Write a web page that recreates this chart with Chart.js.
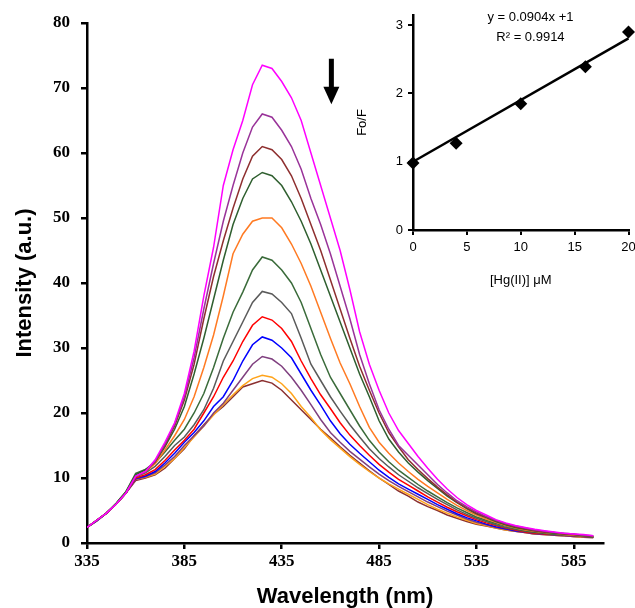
<!DOCTYPE html>
<html><head><meta charset="utf-8">
<script src="https://cdn.jsdelivr.net/npm/chart.js@4.4.1/dist/chart.umd.min.js"></script>
<style>
html,body{margin:0;padding:0;background:#fff;overflow:hidden;width:635px;height:608px}
#main{position:absolute;left:0;top:0}
#inset{position:absolute;left:345px;top:0}
</style></head><body>
<canvas id="main" width="635" height="608"></canvas>
<canvas id="inset" width="290" height="300"></canvas>
<script>
// ---- main spectra data ----
const wavelengths = [335,340,345,350,355,360,365,370,375,380,385,390,395,400,405,410,415,420,425,430,435,440,445,450,455,460,465,470,475,480,485,490,495,500,505,510,515,520,525,530,535,540,545,550,555,560,565,570,575,580,585,590,595];
const xTicks = [335,385,435,485,535,585];
const yTicks = [0,10,20,30,40,50,60,70,80];

const spec01 = [2.4,3.5,4.6,6.0,7.7,10.3,11.0,12.8,15.5,18.5,23.0,29.5,38.0,45.5,55.0,60.5,65.0,70.5,73.5,73.0,71.0,68.5,65.0,60.0,55.0,50.0,45.0,39.0,32.5,27.5,23.5,20.0,17.3,15.3,13.3,11.5,9.8,8.3,7.0,5.9,5.0,4.3,3.6,3.1,2.7,2.4,2.1,1.9,1.7,1.5,1.4,1.3,1.1];
const spec02 = [2.4,3.5,4.6,6.0,7.7,10.2,11.0,12.6,15.2,18.3,22.5,28.5,36.0,43.0,49.5,55.0,60.0,64.0,66.0,65.5,63.5,61.0,57.5,53.0,49.0,44.5,39.5,34.5,29.0,24.5,20.5,17.5,15.0,13.5,12.0,10.5,9.0,7.7,6.5,5.6,4.8,4.1,3.5,3.0,2.6,2.3,2.0,1.8,1.6,1.5,1.4,1.2,1.1];
const spec03 = [2.4,3.5,4.6,6.0,7.7,10.2,11.0,12.5,15.0,18.0,22.0,27.5,34.5,41.0,46.5,51.5,56.0,59.5,61.0,60.5,59.0,56.5,53.0,49.0,45.0,40.5,36.0,31.5,27.2,23.5,20.0,17.0,14.8,12.8,11.3,9.9,8.6,7.4,6.3,5.4,4.6,4.0,3.4,2.9,2.5,2.2,1.9,1.7,1.6,1.4,1.3,1.2,1.0];
const spec04 = [2.4,3.5,4.6,6.1,7.9,10.5,11.3,12.5,14.8,17.5,21.0,26.0,31.5,37.5,43.5,49.0,53.0,56.0,57.0,56.5,55.0,52.5,49.5,46.0,42.0,38.0,34.0,30.0,26.0,22.5,18.8,16.0,14.0,12.3,10.9,9.6,8.4,7.2,6.2,5.3,4.5,3.9,3.3,2.8,2.4,2.1,1.9,1.7,1.5,1.4,1.3,1.1,1.0];
const spec05 = [2.4,3.5,4.6,6.0,7.7,10.2,11.0,12.2,14.3,16.5,19.0,22.5,27.0,32.0,38.0,44.5,47.5,49.5,50.0,50.0,48.5,46.0,43.0,39.5,35.5,31.5,27.7,24.5,21.0,17.8,15.5,13.8,12.3,11.0,9.8,8.7,7.7,6.7,5.8,5.0,4.3,3.7,3.2,2.7,2.3,2.0,1.8,1.6,1.5,1.3,1.2,1.1,1.0];
const spec06 = [2.4,3.5,4.6,6.1,7.9,10.7,11.3,12.3,14.0,15.8,17.5,20.0,23.0,27.0,31.5,35.5,38.6,42.0,44.0,43.5,42.0,40.0,37.0,33.0,29.0,25.5,23.0,20.5,18.0,15.8,14.0,12.5,11.2,10.1,9.0,8.0,7.1,6.2,5.4,4.7,4.0,3.5,3.0,2.6,2.2,1.9,1.7,1.5,1.4,1.3,1.2,1.1,0.9];
const spec07 = [2.4,3.5,4.6,6.0,7.7,10.2,10.8,11.8,13.3,15.0,16.3,18.2,20.5,23.8,28.0,31.0,34.0,37.0,38.7,38.3,37.0,35.3,31.5,27.5,25.0,22.5,20.3,18.2,16.3,14.5,13.0,11.7,10.5,9.5,8.5,7.6,6.7,5.9,5.1,4.4,3.8,3.3,2.8,2.4,2.1,1.8,1.6,1.5,1.3,1.2,1.1,1.0,0.9];
const spec08 = [2.4,3.5,4.6,6.0,7.7,10.0,10.5,11.3,12.7,14.3,15.8,17.5,20.0,22.5,25.5,28.0,31.0,33.5,34.8,34.3,33.0,31.0,28.0,25.3,22.8,20.7,18.5,16.6,15.0,13.5,12.1,10.9,9.8,8.9,8.0,7.1,6.3,5.5,4.8,4.2,3.6,3.1,2.7,2.3,2.0,1.7,1.5,1.4,1.3,1.2,1.1,1.0,0.9];
const spec09 = [2.4,3.4,4.6,6.0,7.7,9.9,10.3,11.0,12.3,13.8,15.5,17.0,18.8,21.0,22.5,25.0,28.0,30.5,31.7,31.2,30.0,28.5,26.0,23.5,21.2,18.8,16.8,15.2,13.8,12.5,11.2,10.1,9.1,8.3,7.5,6.7,5.9,5.2,4.5,3.9,3.4,2.9,2.5,2.2,1.9,1.7,1.5,1.4,1.3,1.2,1.1,1.0,0.9];
const spec10 = [2.4,3.4,4.6,6.0,7.7,9.8,10.2,10.8,12.0,13.3,15.0,16.5,18.0,20.0,21.5,23.5,25.5,27.5,28.7,28.3,27.2,25.5,23.5,21.3,19.0,17.0,15.5,14.1,12.9,11.7,10.6,9.6,8.7,7.9,7.1,6.3,5.6,4.9,4.3,3.7,3.2,2.8,2.4,2.1,1.8,1.6,1.4,1.3,1.2,1.1,1.0,1.0,0.9];
const spec11 = [2.4,3.4,4.6,6.0,7.8,9.8,10.1,10.6,11.8,13.0,14.7,16.3,18.0,19.7,21.3,22.8,24.2,25.3,25.8,25.5,24.5,23.0,21.0,19.3,17.4,15.9,14.6,13.3,12.1,11.0,10.0,9.1,8.3,7.5,6.7,5.9,5.2,4.6,4.0,3.5,3.0,2.7,2.3,2.0,1.8,1.6,1.4,1.3,1.2,1.1,1.0,0.9,0.9];
const spec12 = [2.4,3.4,4.6,6.0,7.7,9.6,10.0,10.5,11.5,13.0,14.5,16.5,18.2,19.8,21.0,22.5,24.0,24.5,25.0,24.6,23.5,22.0,20.5,19.0,17.5,16.2,14.8,13.5,12.3,11.1,10.0,9.0,8.0,7.2,6.3,5.6,5.0,4.3,3.8,3.3,2.9,2.6,2.3,2.0,1.8,1.6,1.4,1.3,1.2,1.1,1.0,0.9,0.8];

const spectra = [spec01,spec02,spec03,spec04,spec05,spec06,spec07,spec08,spec09,spec10,spec11,spec12];
const specColors = ['#FF00FF','#993399','#8E2F2F','#2F5F2F','#FF7A22','#3A6B3A','#5A5A5A','#FF0000','#0000FF','#7F3F7F','#FFA31A','#8B3030'];

// arrow annotation (data units)
const arrowX = 460.5, arrowTop = 74.5, arrowNeck = 70.2, arrowTip = 67.5;

// ---- inset data ----
const hgConc = [0,4,10,16,20];
const foF = [0.98,1.27,1.85,2.39,2.9];
const fitX = [0,20];
const fitY = [1.0,2.808];
const insetXTicks = [0,5,10,15,20];
const insetYTicks = [0,1,2,3];
const eqLine1 = 'y = 0.0904x +1';
const eqLine2 = 'R\u00B2 = 0.9914';

const tickFontMain = {family:'Liberation Serif', weight:'bold', size:17};
const titleFontMain = {family:'Liberation Sans', weight:'bold', size:22, lineHeight:1};

const arrowPlugin = {
  id:'arrow',
  afterDatasetsDraw(chart){
    const {ctx, scales:{x,y}} = chart;
    const cx = x.getPixelForValue(arrowX);
    const yt = y.getPixelForValue(arrowTop), yn = y.getPixelForValue(arrowNeck), yp = y.getPixelForValue(arrowTip);
    ctx.save();
    ctx.fillStyle = '#000';
    ctx.fillRect(cx-2.5, yt, 5, yn-yt+1);
    ctx.beginPath();
    ctx.moveTo(cx-8, yn); ctx.lineTo(cx+8, yn); ctx.lineTo(cx, yp); ctx.closePath();
    ctx.fill();
    ctx.restore();
  }
};

new Chart(document.getElementById('main'), {
  type:'line',
  data:{
    datasets: spectra.map((s,i)=>({
      data: wavelengths.map((w,j)=>({x:w, y:s[j]})),
      borderColor: specColors[i], borderWidth:1.5, pointRadius:0, tension:0, fill:false
    }))
  },
  options:{
    responsive:false, animation:false, devicePixelRatio:1,
    layout:{padding:{left:4, top:23, right:32, bottom:0}},
    plugins:{legend:{display:false}, tooltip:{enabled:false}},
    scales:{
      x:{
        type:'linear', min:335, max:600,
        afterBuildTicks: s=>{ s.ticks = xTicks.map(v=>({value:v})); },
        afterFit: s=>{ s.paddingLeft=0; s.paddingRight=0; s.height=65; },
        border:{color:'#000', width:2.5},
        grid:{drawOnChartArea:false, color:'#000', lineWidth:2.5, tickLength:6},
        ticks:{color:'#000', font:tickFontMain, padding:2, maxRotation:0, autoSkip:false},
        title:{display:true, text:'Wavelength (nm)', color:'#000', font:titleFontMain, padding:{top:0,bottom:0}}
      },
      y:{
        type:'linear', min:0, max:80,
        afterBuildTicks: s=>{ s.ticks = yTicks.map(v=>({value:v})); },
        afterFit: s=>{ s.paddingTop=0; s.paddingBottom=0; s.width=83; },
        border:{color:'#000', width:2.5},
        grid:{drawOnChartArea:false, color:'#000', lineWidth:2.5, tickLength:6},
        ticks:{color:'#000', font:tickFontMain, padding:11},
        title:{display:true, text:'Intensity (a.u.)', color:'#000', font:titleFontMain, padding:{top:10,bottom:0}}
      }
    }
  },
  plugins:[arrowPlugin]
});

const eqPlugin = {
  id:'eq',
  afterDatasetsDraw(chart){
    const {ctx, scales:{x,y}} = chart;
    ctx.save();
    ctx.fillStyle = '#000';
    ctx.font = '13px "Liberation Sans"';
    ctx.textAlign = 'center'; ctx.textBaseline = 'middle';
    ctx.fillText(eqLine1, x.getPixelForValue(10.9), y.getPixelForValue(3.11));
    ctx.fillText(eqLine2, x.getPixelForValue(10.9), y.getPixelForValue(2.82));
    ctx.restore();
  }
};

const insetTick = {family:'Liberation Sans', size:13};
new Chart(document.getElementById('inset'), {
  type:'scatter',
  data:{datasets:[
    {type:'line', data: fitX.map((v,i)=>({x:v, y:fitY[i]})), borderColor:'#000', borderWidth:2.5, pointRadius:0, tension:0, clip:false},
    {data: hgConc.map((v,i)=>({x:v, y:foF[i]})), pointStyle:'rectRot', pointRadius:6.5, backgroundColor:'#000', borderColor:'#000', borderWidth:0, clip:false}
  ]},
  options:{
    responsive:false, animation:false, devicePixelRatio:1,
    layout:{padding:{left:0, top:15, right:2, bottom:0}},
    plugins:{legend:{display:false}, tooltip:{enabled:false}},
    scales:{
      x:{
        type:'linear', min:0, max:20,
        afterBuildTicks: s=>{ s.ticks = insetXTicks.map(v=>({value:v})); },
        afterFit: s=>{ s.paddingLeft=0; s.paddingRight=0; s.height=70; },
        border:{color:'#000', width:2.5},
        grid:{drawOnChartArea:false, color:'#000', lineWidth:2, tickLength:5},
        ticks:{color:'#000', font:insetTick, padding:5, maxRotation:0, autoSkip:false},
        title:{display:true, text:'[Hg(II)] \u03BCM', color:'#000', font:{family:'Liberation Sans', size:13, lineHeight:1}, padding:{top:0,bottom:13}}
      },
      y:{
        type:'linear', min:0, max:3.15,
        afterBuildTicks: s=>{ s.ticks = insetYTicks.map(v=>({value:v})); },
        afterFit: s=>{ s.paddingTop=0; s.paddingBottom=0; s.width=68; },
        border:{color:'#000', width:2.5},
        grid:{drawOnChartArea:false, color:'#000', lineWidth:2, tickLength:5},
        ticks:{color:'#000', font:insetTick, padding:5},
        title:{display:true, text:'Fo/F', color:'#000', font:{family:'Liberation Sans', size:13, lineHeight:1}, padding:{top:11,bottom:0}}
      }
    }
  },
  plugins:[eqPlugin]
});
</script>
</body></html>
